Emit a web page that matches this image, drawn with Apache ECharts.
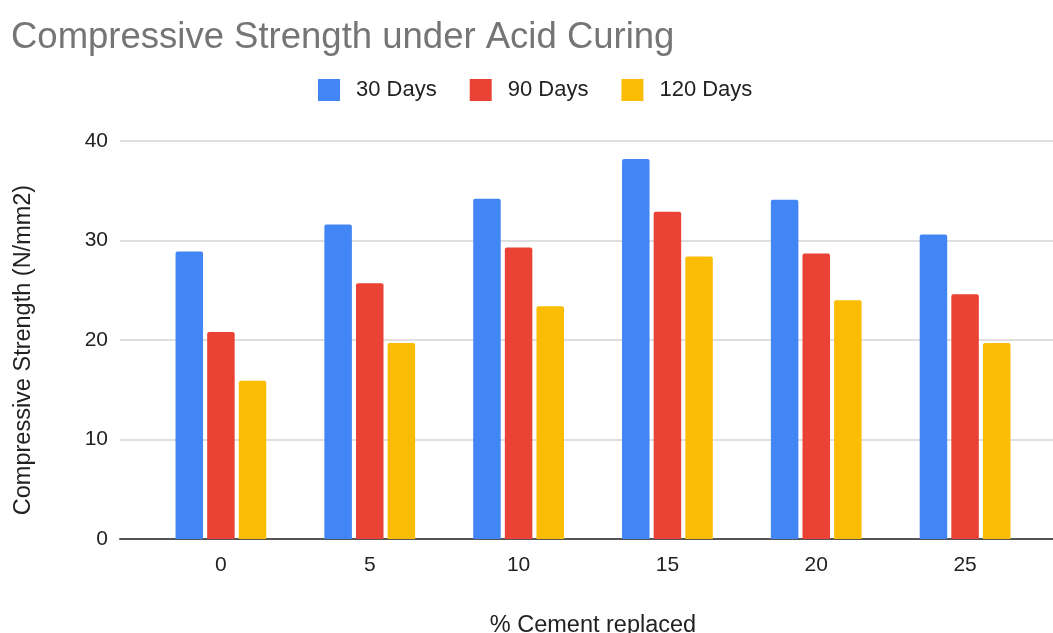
<!DOCTYPE html>
<html>
<head>
<meta charset="utf-8">
<script src="https://cdn.jsdelivr.net/npm/echarts@6/dist/echarts.min.js"></script>
<style>
  html, body { margin: 0; padding: 0; background: #fff; }
  #chart { width: 1053px; height: 633px; }
</style>
</head>
<body>
<div id="chart"></div>
<script>
// % of cement replaced (category labels)
const categories = ['0', '5', '10', '15', '20', '25'];
// Compressive strength (N/mm2) after acid curing
const days30 = [28.9, 31.6, 34.2, 38.2, 34.1, 30.6];
const days90 = [20.8, 25.7, 29.3, 32.9, 28.7, 24.6];
const days120 = [15.9, 19.7, 23.4, 28.4, 24.0, 19.7];
const seriesNames = ['30 Days', '90 Days', '120 Days'];
const yTicks = { min: 0, max: 40, interval: 10 };

const FONT = '"Liberation Sans", Arial, sans-serif';
const colors = ['#4285F4', '#EA4335', '#FBBC04'];

const chart = echarts.init(document.getElementById('chart'));

const barSeries = [days30, days90, days120].map((vals, i) => ({
  name: seriesNames[i],
  type: 'bar',
  xAxisIndex: 1,
  yAxisIndex: 1,
  data: vals,
  barWidth: 27.5,
  barGap: '15%',
  itemStyle: { color: colors[i], borderRadius: [2, 2, 0, 0] }
}));

chart.setOption({
  animation: false,
  color: colors,
  title: {
    text: 'Compressive Strength under Acid Curing',
    left: 6,
    top: 14,
    textStyle: { fontFamily: FONT, fontSize: 36.5, fontWeight: 'normal', color: '#757575' }
  },
  legend: {
    data: seriesNames,
    left: 313,
    top: 74,
    icon: 'rect',
    itemWidth: 22,
    itemHeight: 22,
    itemGap: 33,
    textStyle: { fontFamily: FONT, fontSize: 22, color: '#222', padding: [0, 0, 0, 11] }
  },
  grid: [
    // frame: gridlines and baseline spanning the full width
    { left: 120, right: 0, top: 141, bottom: 94, outerBoundsMode: 'none' },
    // bars and category labels
    { left: 146.5, right: 13.5, top: 141, bottom: 94, outerBoundsMode: 'none' }
  ],
  xAxis: [
    {
      gridIndex: 0, type: 'value', min: 0, max: 1,
      axisLine: { show: true, lineStyle: { color: '#555', width: 2 } },
      axisTick: { show: false }, axisLabel: { show: false }, splitLine: { show: false }
    },
    {
      gridIndex: 1, type: 'category', data: categories,
      axisLine: { show: false }, axisTick: { show: false },
      axisLabel: { fontFamily: FONT, fontSize: 21, color: '#222', margin: 16 },
      name: '% Cement replaced',
      nameLocation: 'middle',
      nameGap: 75,
      nameTextStyle: { fontFamily: FONT, fontSize: 23.5, color: '#222' }
    }
  ],
  yAxis: [
    {
      gridIndex: 0, type: 'value', min: yTicks.min, max: yTicks.max, interval: yTicks.interval,
      axisLine: { show: false }, axisTick: { show: false },
      axisLabel: { fontFamily: FONT, fontSize: 21, color: '#222', margin: 12 },
      splitLine: { lineStyle: { color: '#d4d4d4', width: 1.5 } },
      name: 'Compressive Strength (N/mm2)',
      nameLocation: 'middle',
      nameGap: 84,
      nameTextStyle: { fontFamily: FONT, fontSize: 23.5, color: '#222', padding: [0, 20, 0, 0] }
    },
    {
      gridIndex: 1, type: 'value', min: yTicks.min, max: yTicks.max, interval: yTicks.interval,
      show: false
    }
  ],
  series: barSeries
});
</script>
</body>
</html>
